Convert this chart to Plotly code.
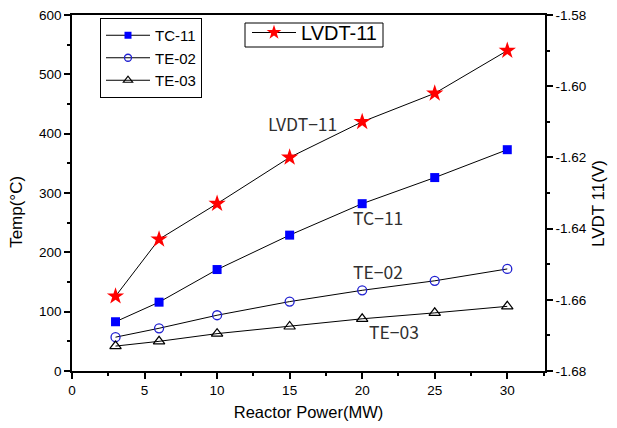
import plotly.graph_objects as go

power = [3, 6, 10, 15, 20, 25, 30]
tc11 = [83, 116, 171, 229, 282, 326, 373]
te02 = [57, 72, 94, 117, 136, 152, 172]
te03 = [42, 50, 63, 75, 88, 98, 109]
lvdt11 = [-1.659, -1.643, -1.633, -1.620, -1.610, -1.602, -1.590]

y2_tickvals = [-1.68, -1.66, -1.64, -1.62, -1.60, -1.58]
y2_ticktext = ["-1.68", "-1.66", "-1.64", "-1.62", "-1.60", "-1.58"]

FONT = "Liberation Sans, Arial, sans-serif"

styles = {
    "TC-11": dict(symbol="square", color="#0000ff", line=dict(width=0)),
    "TE-02": dict(symbol="circle-open", color="#2020d0", line=dict(width=1.3)),
    "TE-03": dict(symbol="triangle-up-open", color="black", line=dict(width=1.2)),
    "LVDT-11": dict(symbol="star", color="#ff0000", line=dict(width=0)),
}
plot_sizes = {"TC-11": 9, "TE-02": 9, "TE-03": 10, "LVDT-11": 13}
legend_sizes = {"TC-11": 7, "TE-02": 7, "TE-03": 8, "LVDT-11": 11}

fig = go.Figure()
series = [("TC-11", tc11, "y", "legend"), ("TE-02", te02, "y", "legend"),
          ("TE-03", te03, "y", "legend"), ("LVDT-11", lvdt11, "y2", "legend2")]
for name, vals, yax, leg in series:
    fig.add_trace(go.Scatter(x=power, y=vals, name=name, mode="lines+markers", yaxis=yax,
                             line=dict(color="black", width=1),
                             marker=dict(size=plot_sizes[name], **styles[name]),
                             showlegend=False))
for name, vals, yax, leg in series:
    fig.add_trace(go.Scatter(x=[None], y=[None], name=name, mode="lines+markers", yaxis=yax,
                             line=dict(color="black", width=1),
                             marker=dict(size=legend_sizes[name], **styles[name]),
                             legend=leg, showlegend=True))

axis_common = dict(showline=True, linecolor="black", linewidth=1.5, ticks="outside",
                   tickcolor="black", tickwidth=1.5, ticklen=6, showgrid=False, zeroline=False,
                   ticklabeloverflow="allow",
                   tickfont=dict(family=FONT, size=13.5, color="black"))

W_PLOT, H_PLOT = 473, 356
# page is drawn with an 8px body margin, so shift the plot area accordingly
L, T = 64, 7
TOP = 8 + T  # screen y of plot top

def px_x(sx):
    return (sx - 72) / W_PLOT

def px_y(sy):
    return 1 - (sy - TOP) / H_PLOT

fig.update_layout(
    width=617, height=428,
    margin=dict(l=L, r=617 - L - W_PLOT, t=T, b=428 - T - H_PLOT, autoexpand=False),
    plot_bgcolor="white", paper_bgcolor="white",
    xaxis=dict(range=[0, 32.6], dtick=5, tick0=0, mirror=True,
               minor=dict(ticks="outside", dtick=2.5, tick0=0, ticklen=3, tickcolor="black", tickwidth=1.5),
               title=dict(text="Reactor Power(MW)", font=dict(family=FONT, size=16.5, color="black"), standoff=9),
               **axis_common),
    yaxis=dict(range=[0, 600], dtick=100, mirror=False,
               minor=dict(ticks="outside", dtick=50, ticklen=3, tickcolor="black", tickwidth=1.5),
               **axis_common),
    yaxis2=dict(range=[-1.68, -1.58], tickvals=y2_tickvals, ticktext=y2_ticktext,
                overlaying="y", side="right",
                minor=dict(ticks="outside", dtick=0.01, ticklen=3, tickcolor="black", tickwidth=1.5),
                **axis_common),
    legend=dict(x=px_x(100), y=px_y(18), xanchor="left", yanchor="top",
                bordercolor="black", borderwidth=1, bgcolor="white",
                font=dict(family=FONT, size=15, color="black"), itemwidth=44,
                tracegroupgap=0),
    legend2=dict(x=px_x(247), y=px_y(13), xanchor="left", yanchor="top",
                 borderwidth=0, bgcolor="rgba(0,0,0,0)",
                 font=dict(family=FONT, size=20, color="black"), itemwidth=44),
    showlegend=True,
    shapes=[dict(type="rect", xref="paper", yref="paper",
                 x0=px_x(245), x1=px_x(383), y0=px_y(47), y1=px_y(23),
                 line=dict(color="black", width=1), fillcolor="white", layer="below")],
)

label_font = dict(family="Noto Sans CJK KR, Liberation Sans, sans-serif", size=17.5, color="#303030")
fig.add_annotation(x=15.9, y=417, text="LVDT\u221211", showarrow=False, font=label_font)
fig.add_annotation(x=21.1, y=258, text="TC\u221211", showarrow=False, font=label_font)
fig.add_annotation(x=21.1, y=168, text="TE\u221202", showarrow=False, font=label_font)
fig.add_annotation(x=22.2, y=66, text="TE\u221203", showarrow=False, font=label_font)

# Axis titles
fig.add_annotation(xref="paper", yref="paper", x=px_x(17), y=0.447, xanchor="center",
                   text="Temp(°C)", textangle=-90, showarrow=False,
                   font=dict(family=FONT, size=17, color="black"))
fig.add_annotation(xref="paper", yref="paper", x=px_x(598), y=0.469, xanchor="center",
                   text="LVDT 11(V)", textangle=-90, showarrow=False,
                   font=dict(family=FONT, size=17, color="black"))

fig.write_html("out.html")
